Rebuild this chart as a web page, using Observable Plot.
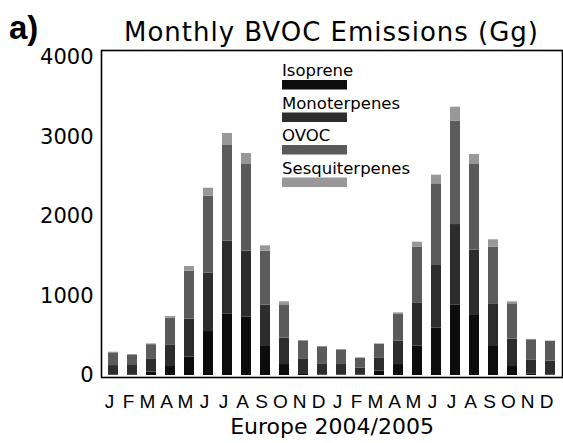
<!DOCTYPE html>
<html>
<head>
<meta charset="utf-8">
<script src="https://cdn.jsdelivr.net/npm/d3@7"></script>
<script src="https://cdn.jsdelivr.net/npm/@observablehq/plot@0.6"></script>
<style>
  html, body { margin: 0; padding: 0; background: #fff; }
  #wrap { position: relative; width: 563px; height: 443px; overflow: hidden; }
  #head { position: relative; width: 563px; height: 40px; }
  #tag { position: absolute; left: 9px; top: 9px; line-height: 1; font: bold 33px "Liberation Sans", Arial, sans-serif; color: #000; }
  #title { position: absolute; left: 101px; width: 461px; top: 17px; line-height: 1; text-align: center; font: 26px "DejaVu Sans", sans-serif; letter-spacing: 1px; color: #000; white-space: nowrap; }
  svg { display: block; }
</style>
</head>
<body>
<div id="wrap">
  <div id="head"><div id="tag">a)</div><div id="title">Monthly BVOC Emissions (Gg)</div></div>
  <div id="chart"></div>
</div>
<script>
const months = ["J","F","M","A","M","J","J","A","S","O","N","D","J","F","M","A","M","J","J","A","S","O","N","D"];
const species = ["Isoprene", "Monoterpenes", "OVOC", "Sesquiterpenes"];
const speciesColors = ["#0c0c0c", "#2d2d2d", "#5b5b5b", "#989898"];
const isoprene      = [5, 8, 42, 113, 231, 553, 776, 734, 365, 138, 13, 5,   5, 5, 55, 138, 369, 595, 889, 755, 365, 113, 21, 5];
const monoterpenes  = [120, 118, 168, 273, 478, 734, 914, 830, 520, 332, 197, 142,   133, 87, 167, 294, 545, 789, 1010, 821, 537, 344, 176, 175];
const ovoc          = [160, 133, 178, 335, 603, 969, 1203, 1090, 679, 419, 225, 213,   184, 127, 171, 335, 700, 1027, 1300, 1078, 712, 445, 252, 248];
const sesquiterpenes= [8, 5, 10, 21, 59, 100, 151, 138, 67, 38, 5, 5,   5, 3, 5, 21, 63, 109, 176, 126, 93, 25, 5, 5];
const yTicks = [0, 1000, 2000, 3000, 4000];
const xLabel = "Europe 2004/2005";

const series = [isoprene, monoterpenes, ovoc, sesquiterpenes];
const data = [];
species.forEach((s, si) => series[si].forEach((v, i) => data.push({idx: i, species: s, value: v})));

const plot = Plot.plot({
  width: 563,
  height: 403,
  marginTop: 10,
  marginBottom: 66,
  marginLeft: 101,
  marginRight: 1,
  style: {fontFamily: "DejaVu Sans, sans-serif", background: "#fff", color: "#000"},
  x: {type: "band", domain: d3.range(months.length), paddingInner: 0.45, paddingOuter: 0.225},
  y: {domain: [-25, 4088]},
  color: {domain: species, range: speciesColors},
  marks: [
    Plot.barY(data, {x: "idx", y: "value", fill: "species"}),
    Plot.frame({stroke: "#000", strokeWidth: 1.6}),
    Plot.axisY({ticks: yTicks, tickSize: 0, tickPadding: 8, fontSize: 21, label: null, tickFormat: d => String(d)}),
    Plot.axisX({tickSize: 0, tickPadding: 17, fontSize: 19, fontFamily: "Liberation Sans, Arial, sans-serif", label: null, tickFormat: i => months[i], dx: -4}),
    Plot.text([xLabel], {frameAnchor: "bottom", dy: 56, fontSize: 22, text: d => d})
  ]
});
document.getElementById("chart").appendChild(plot);

// legend inside the frame
const svg = d3.select(plot);
const lg = svg.append("g").attr("transform", "translate(282, 0)").attr("text-anchor", "start");
species.forEach((s, i) => {
  const g = lg.append("g").attr("transform", `translate(0, ${i * 32.5})`);
  g.append("text").attr("x", 0).attr("y", 36).attr("font-size", 16.5).attr("fill", "#000").text(s);
  g.append("rect").attr("x", 0).attr("y", 40).attr("width", 65).attr("height", 9.5).attr("fill", speciesColors[i]);
});
</script>
</body>
</html>
